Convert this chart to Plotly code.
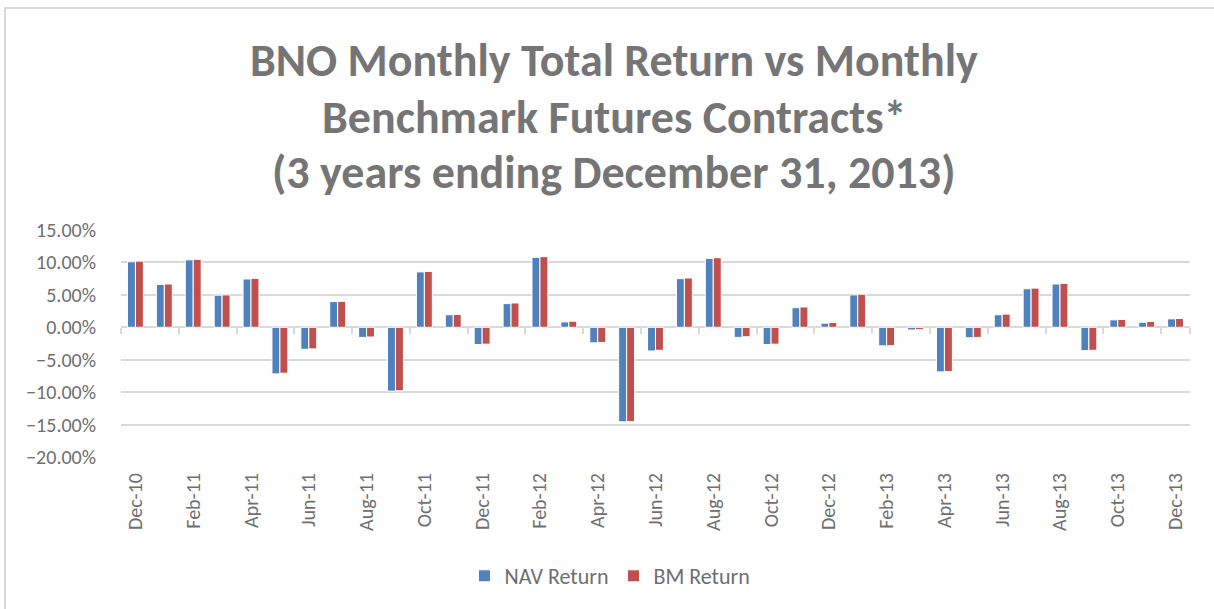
import plotly.graph_objects as go

months = ["Dec-10","Jan-11","Feb-11","Mar-11","Apr-11","May-11","Jun-11","Jul-11","Aug-11","Sep-11","Oct-11","Nov-11",
          "Dec-11","Jan-12","Feb-12","Mar-12","Apr-12","May-12","Jun-12","Jul-12","Aug-12","Sep-12","Oct-12","Nov-12",
          "Dec-12","Jan-13","Feb-13","Mar-13","Apr-13","May-13","Jun-13","Jul-13","Aug-13","Sep-13","Oct-13","Nov-13","Dec-13"]

nav_return = [0.1010, 0.0660, 0.1040, 0.0495, 0.0745, -0.0719, -0.0339, 0.0396, -0.0156, -0.0984, 0.0854, 0.0193,
              -0.0266, 0.0365, 0.1078, 0.0083, -0.0240, -0.1458, -0.0365, 0.0750, 0.1063, -0.0156, -0.0266, 0.0302,
              0.0063, 0.0500, -0.0286, -0.0042, -0.0688, -0.0161, 0.0193, 0.0594, 0.0667, -0.0359, 0.0115, 0.0078, 0.0130]

bm_return = [0.1020, 0.0667, 0.1047, 0.0500, 0.0755, -0.0708, -0.0333, 0.0400, -0.0150, -0.0979, 0.0860, 0.0198,
             -0.0260, 0.0375, 0.1089, 0.0094, -0.0234, -0.1453, -0.0354, 0.0760, 0.1073, -0.0146, -0.0260, 0.0313,
             0.0073, 0.0510, -0.0281, -0.0036, -0.0682, -0.0156, 0.0203, 0.0604, 0.0677, -0.0354, 0.0120, 0.0089, 0.0135]

tick_labels = months[::2]

title_lines = ["BNO Monthly Total Return vs Monthly",
               "Benchmark Futures Contracts*",
               "(3 years ending December 31, 2013)"]

W, H = 1214, 609
L, R, T, B = 121, 1190, 230, 457

font_family = "Carlito, Lato, 'Open Sans', sans-serif"
text_gray = "#6f6f6f"
grid_gray = "#d9d9d9"

fig = go.Figure()
fig.add_trace(go.Bar(name="NAV Return", x=months, y=nav_return,
                     marker=dict(color="#4f81bd", line=dict(color="white", width=1))))
fig.add_trace(go.Bar(name="BM Return", x=months, y=bm_return,
                     marker=dict(color="#c0504d", line=dict(color="white", width=1))))
# invisible helper trace so the zero-crossing tick axis renders
fig.add_trace(go.Scatter(x=months, y=[None]*len(months), xaxis="x2", yaxis="y",
                         mode="lines", showlegend=False, hoverinfo="skip"))

zero_pos = 0.20 / 0.35

title_y = [60, 117, 172]
annotations = [dict(text=t, xref="paper", yref="paper",
                    x=(614 - L) / (R - L), y=(B - yy) / (B - T),
                    xanchor="center", yanchor="middle", showarrow=False,
                    font=dict(family=font_family, size=46, color="#757575", weight="bold"))
               for t, yy in zip(title_lines, title_y)]

fig.update_layout(
    width=W, height=H,
    margin=dict(l=L, r=W - R, t=T, b=H - B, pad=0),
    paper_bgcolor="white", plot_bgcolor="white",
    barmode="group", bargap=0.45, bargroupgap=0.0,
    font=dict(family=font_family, color=text_gray),
    annotations=annotations,
    xaxis=dict(
        type="category", tickmode="array", tickvals=tick_labels, ticktext=tick_labels,
        tickangle=-90, tickfont=dict(size=20, color=text_gray),
        showgrid=False, showline=False, zeroline=False, ticks="", ticklabelstandoff=11,
    ),
    xaxis2=dict(
        type="category", overlaying="x", matches="x", anchor="free", position=zero_pos,
        side="bottom", showticklabels=False, showgrid=False, showline=False, zeroline=False,
        ticks="outside", tickson="boundaries", ticklen=6, tickcolor=grid_gray, tickwidth=1.5,
        tickmode="array", tickvals=tick_labels,
    ),
    yaxis=dict(
        range=[-0.20, 0.15], dtick=0.05, tick0=0, tickformat=".2%",
        tickfont=dict(size=20, color=text_gray),
        showgrid=True, gridcolor=grid_gray, gridwidth=1.5,
        zeroline=True, zerolinecolor=grid_gray, zerolinewidth=1.5,
        showline=False, ticks="", ticklabelstandoff=24,
    ),
    legend=dict(
        orientation="h", xref="container", yref="container",
        x=610 / W, xanchor="center", y=1 - 576 / H, yanchor="middle",
        font=dict(size=22, color=text_gray), itemwidth=30,
        traceorder="normal",
    ),
    shapes=[dict(type="rect", xref="paper", yref="paper",
                 x0=(5 - L) / (R - L), x1=(1240 - L) / (R - L),
                 y0=(B - 640) / (B - T), y1=(B - 8) / (B - T),
                 line=dict(color=grid_gray, width=2), fillcolor="rgba(0,0,0,0)", layer="below")],
)

fig.write_html("out.html", config={"displayModeBar": False},
               post_script="document.body.style.margin='0';document.body.style.overflow='hidden';")
